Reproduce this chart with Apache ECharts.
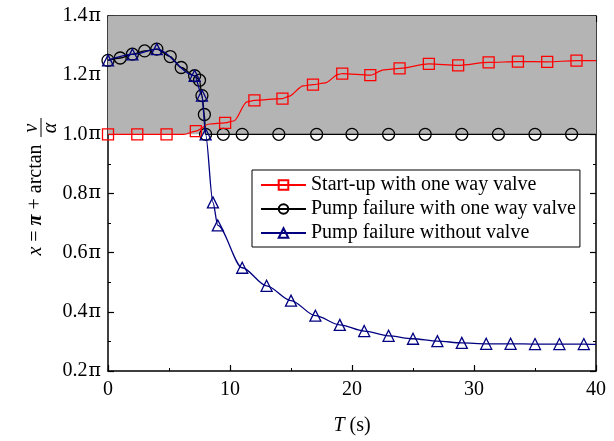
<!DOCTYPE html>
<html>
<head>
<meta charset="utf-8">
<script src="https://cdn.jsdelivr.net/npm/echarts@6/dist/echarts.min.js"></script>
<style>
  html, body { margin: 0; padding: 0; background: #fff; }
  #chart { width: 614px; height: 441px; }
</style>
</head>
<body>
<div id="chart"></div>
<script>
// time (s) and x/pi values; mark = 1 where a symbol is drawn
const redT = [0, 2.4, 4.8, 6.2, 7.2, 8.3, 9.6, 10.3, 11.4, 12.0, 14.3, 14.8, 16.0, 16.8, 17.8, 18.9, 19.2, 21.5, 22.6, 23.9, 26.3, 28.7, 31.2, 33.6, 36.0, 38.4, 40];
const redV = [1.0, 1.0, 1.0, 1.0, 1.011, 1.035, 1.039, 1.045, 1.11, 1.115, 1.121, 1.128, 1.164, 1.168, 1.174, 1.203, 1.205, 1.200, 1.218, 1.223, 1.238, 1.233, 1.243, 1.246, 1.245, 1.249, 1.249];
const redMark = [1, 1, 1, 0, 1, 0, 1, 0, 0, 1, 1, 0, 0, 1, 0, 0, 1, 1, 0, 1, 1, 1, 1, 1, 1, 1, 0];

const blackT = [0, 1.0, 2.0, 3.0, 4.0, 5.1, 6.0, 7.1, 7.5, 7.7, 7.9, 8.0, 9.45, 11, 14, 17.1, 20, 23, 26, 29, 32, 35, 38, 40];
const blackV = [1.25, 1.258, 1.271, 1.282, 1.288, 1.263, 1.226, 1.198, 1.183, 1.131, 1.067, 1.0, 1.0, 1.0, 1.0, 1.0, 1.0, 1.0, 1.0, 1.0, 1.0, 1.0, 1.0, 1.0];
const blackMark = [1, 1, 1, 1, 1, 1, 1, 1, 1, 1, 1, 1, 1, 1, 1, 1, 1, 1, 1, 1, 1, 1, 1, 0];

const blueT = [0, 2, 4, 7.1, 7.7, 8.0, 8.6, 9.0, 11, 13, 15, 17, 19, 21, 23, 25, 27, 29, 31, 33, 35, 37, 39, 40];
const blueV = [1.25, 1.27, 1.288, 1.198, 1.131, 1.0, 0.770, 0.692, 0.549, 0.488, 0.438, 0.387, 0.356, 0.335, 0.319, 0.309, 0.301, 0.295, 0.292, 0.292, 0.291, 0.291, 0.291, 0.290];
const blueMark = [1, 1, 1, 1, 1, 1, 1, 1, 1, 1, 1, 1, 1, 1, 1, 1, 1, 1, 1, 1, 1, 1, 1, 0];

const shadeFrom = 1.0, shadeTo = 1.4;

const serif = '"Liberation Serif", "DejaVu Serif", serif';

function toData(ts, vs, marks) {
  return ts.map((t, i) => marks[i] ? [t, vs[i]] : { value: [t, vs[i]], symbol: 'none' });
}

const chart = echarts.init(document.getElementById('chart'));

const axisCommon = {
  axisLine: { show: true, onZero: false, lineStyle: { color: '#000', width: 1.5 } },
  axisTick: { show: true, inside: true, length: 6, lineStyle: { color: '#000', width: 1.2 } },
  minorTick: { show: true, splitNumber: 2, length: 3, lineStyle: { color: '#000', width: 1 } },
  splitLine: { show: false },
  minorSplitLine: { show: false }
};

const options = {
  animation: false,
  backgroundColor: '#fff',
  grid: { left: 108, right: 18, top: 16, bottom: 68, containLabel: false },
  xAxis: [
    {
      type: 'value', min: 0, max: 40, interval: 10, position: 'bottom',
      ...axisCommon,
      axisLabel: { color: '#000', fontFamily: serif, fontSize: 20, margin: 9 },
      name: '{i|T} (s)',
      nameLocation: 'middle',
      nameGap: 45,
      nameTextStyle: {
        color: '#000', fontFamily: serif, fontSize: 20,
        rich: { i: { fontStyle: 'italic', fontFamily: serif, fontSize: 20, color: '#000' } }
      }
    },
    {
      type: 'value', min: 0, max: 40, interval: 10, position: 'top',
      ...axisCommon,
      axisLabel: { show: false }
    }
  ],
  yAxis: [
    {
      type: 'value', min: 0.2, max: 1.4, interval: 0.2, position: 'left',
      ...axisCommon,
      axisLabel: {
        color: '#000', fontFamily: serif, fontSize: 20, margin: 7,
        formatter: v => v.toFixed(1) + '{p|π}',
        rich: { p: { fontFamily: '"DejaVu Serif", serif', fontSize: 19, color: '#000', padding: [0, 0, 0, 1] } }
      }
    },
    {
      type: 'value', min: 0.2, max: 1.4, interval: 0.2, position: 'right',
      ...axisCommon,
      axisLabel: { show: false }
    }
  ],
  legend: {
    orient: 'vertical',
    left: 252, top: 170,
    padding: [5, 4, 4, 8],
    itemGap: 4,
    itemWidth: 45, itemHeight: 12,
    borderColor: '#000', borderWidth: 1,
    backgroundColor: '#fff',
    textStyle: { color: '#000', fontFamily: serif, fontSize: 20 },
    data: ['Start-up with one way valve', 'Pump failure with one way valve', 'Pump failure without valve']
  },
  series: [
    {
      name: 'Pump failure with one way valve',
      type: 'line',
      z: 3,
      smooth: 0.3, smoothMonotone: 'x',
      data: toData(blackT, blackV, blackMark),
      symbol: 'circle', symbolSize: 12,
      itemStyle: { color: 'rgba(0,0,0,0)', borderColor: '#000', borderWidth: 1.3 },
      lineStyle: { color: '#000', width: 1.3 },
      markArea: {
        silent: true,
        itemStyle: { color: '#b4b4b4' },
        data: [[{ yAxis: shadeFrom }, { yAxis: shadeTo }]]
      }
    },
    {
      name: 'Start-up with one way valve',
      type: 'line',
      z: 4,
      smooth: 0.3, smoothMonotone: 'x',
      data: toData(redT, redV, redMark),
      symbol: 'rect', symbolSize: 11,
      itemStyle: { color: 'rgba(0,0,0,0)', borderColor: '#ff0000', borderWidth: 1.3 },
      lineStyle: { color: '#ff0000', width: 1.2 }
    },
    {
      name: 'Pump failure without valve',
      type: 'line',
      z: 5,
      smooth: 0.3, smoothMonotone: 'x',
      data: toData(blueT, blueV, blueMark),
      symbol: 'triangle', symbolSize: 11,
      itemStyle: { color: 'rgba(0,0,0,0)', borderColor: '#000080', borderWidth: 1.3 },
      lineStyle: { color: '#000080', width: 1.3 }
    }
  ],
  graphic: [
    {
      type: 'text', x: 36, y: 200, rotation: Math.PI / 2,
      style: {
        text: '{i|x} = {p|π} + arctan',
        x: 0, y: 0, align: 'center', verticalAlign: 'middle',
        fill: '#000', font: '20px ' + serif,
        rich: {
          i: { fontStyle: 'italic', fontSize: 20, fontFamily: serif, fill: '#000' },
          p: { fontStyle: 'italic', fontWeight: 'bold', fontSize: 20, fontFamily: serif, fill: '#000' }
        }
      }
    },
    {
      type: 'text', x: 32, y: 128, rotation: Math.PI / 2,
      style: { text: 'v', x: 0, y: 0, align: 'center', verticalAlign: 'middle', fill: '#000', font: 'italic 20px ' + serif }
    },
    {
      type: 'line',
      shape: { x1: 41, y1: 118, x2: 41, y2: 137 },
      style: { stroke: '#000', lineWidth: 1 }
    },
    {
      type: 'text', x: 51, y: 128, rotation: Math.PI / 2,
      style: { text: 'α', x: 0, y: 0, align: 'center', verticalAlign: 'middle', fill: '#000', font: 'italic 20px ' + serif }
    }
  ]
};

chart.setOption(options);
</script>
</body>
</html>
